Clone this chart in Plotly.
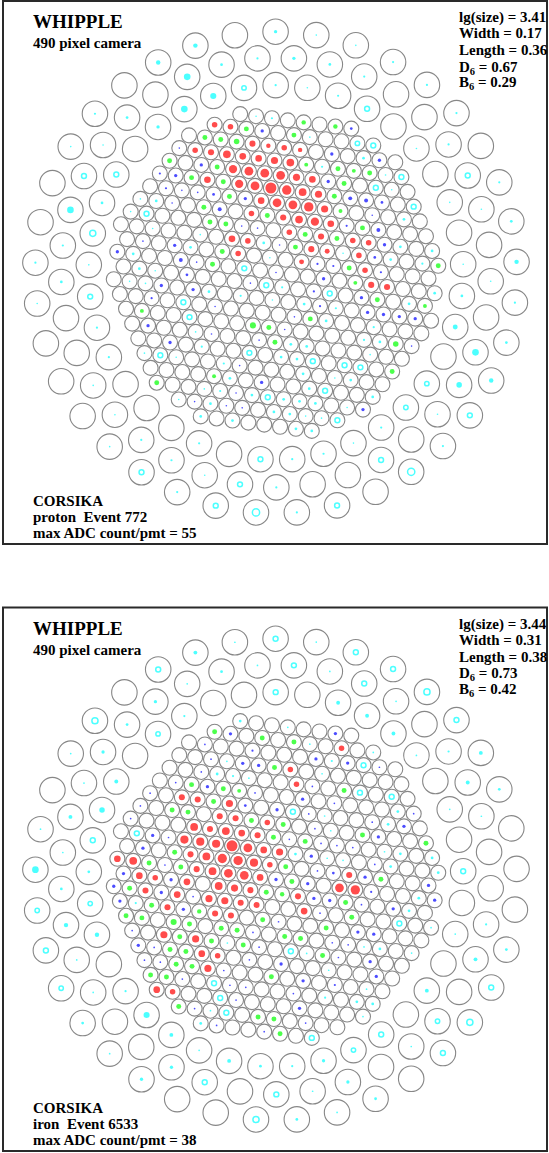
import math
import plotly.graph_objects as go

W, H = 549, 1153
PX_PER_UNIT = 16.0

# ---------------- camera geometry (Whipple 490: 379 inner + 3x37 outer) ----------------
N_INNER_RINGS = 11
INNER_ROT_DEG = 7.44
CUT_CORNERS = [(0, -11), (1, -11), (-1, -10), (11, -11), (10, -11), (11, -10),
               (11, 0), (11, -1), (10, 1), (0, 11), (-1, 11), (1, 10),
               (-11, 11), (-10, 11), (-11, 10), (-11, 0), (-11, 1), (-10, -1)]
OUTER_RADII = [11.71, 13.43, 15.05]
OUTER_START_DEG = [-90.1, -94.95, -90.1]
N_PER_OUTER_RING = 37

# ---------------- event data: (i, j, ADC) inner pixels, (ring, k, ADC) outer pixels ----------------
# negative ADC values are drawn as open rings
TOP_LABELS = ["lg(size) = 3.41", "Width = 0.17", "Length = 0.36", "D<sub>6</sub> = 0.67", "B<sub>6</sub> = 0.29"]
TOP_INFO = ["CORSIKA", "proton&nbsp; Event 772", "max ADC count/pmt = 55"]
TOP_MAX_ADC = 55

TOP_RED = [(0, -10, 14), (1, -10, 14), (2, -9, 17), (3, -9, 9), (4, -9, 14), (5, -9, 9),
           (-2, -8, 14), (-1, -8, 17), (0, -8, 27), (1, -8, 20), (2, -8, 20), (3, -8, 23), (4, -8, 27),
           (0, -7, 31), (1, -7, 35), (2, -7, 35), (3, -7, 35), (4, -7, 23), (5, -7, 20),
           (-2, -6, 20), (0, -6, 31), (1, -6, 35), (2, -6, 55), (3, -6, 40), (4, -6, 27), (5, -6, 23),
           (1, -5, 20), (2, -5, 35), (3, -5, 35), (4, -5, 40), (5, -5, 23),
           (0, -4, 14), (2, -4, 17), (3, -4, 27), (4, -4, 31), (5, -4, 20),
           (2, -3, 14), (4, -3, 17), (6, -3, 14), (7, -3, 14),
           (-2, -2, 20), (-1, -2, 14), (3, -2, 17), (4, -2, 11), (6, -2, 14),
           (-2, -1, 14), (2, -1, 11), (6, -1, 14), (6, 0, 17), (7, 0, 17)]
TOP_GREEN = [(2, -10, 11), (5, -10, 11), (6, -11, 9), (8, -11, 9), (-1, -9, 11), (0, -9, 11), (1, -9, 14),
             (5, -8, 7), (7, -8, 11), (8, -8, 7), (9, -8, 11), (-4, -7, 11), (-1, -7, 11), (7, -7, 11),
             (-3, -6, 11), (-1, -6, 11), (6, -6, 11), (-1, -5, 11), (6, -5, 7), (-3, -4, 11), (1, -4, 11),
             (7, -4, 11), (-3, -3, 11), (-2, -3, 11), (3, -3, 11), (5, -3, 11), (2, -2, 11), (11, -2, 11),
             (-3, -1, 11), (5, -1, 11), (-4, 0, 11), (5, 0, 7), (6, 1, 11), (9, 1, 7), (1, 3, 11),
             (-3, 4, 17), (-2, 4, 11), (6, 4, 14), (-2, 5, 11), (5, 6, 11), (-7, 8, 7), (-10, 4, 7), (-11, 9, 11)]
TOP_BLUE = [(3, -10, 5), (9, -11, 3.4), (-3, -8, 1.2), (-2, -7, 5), (10, -9, 5), (7, -9, 5), (6, -7, 5),
            (-5, -6, 2.2), (-4, -6, 5), (7, -6, 7), (8, -6, 7), (9, -6, 3.4), (-5, -5, 2.2), (-4, -5, 1.2),
            (-3, -5, 1.2), (-2, -5, 3.4), (0, -5, 5), (8, -5, 1.2), (-5, -4, 1.2), (-2, -4, 7), (6, -4, 2.2),
            (8, -4, 7), (-1, -3, 1.2), (0, -3, 1.2), (8, -3, 5), (1, -2, 1.2), (7, -2, 3.4), (-8, -1, 1.2),
            (-6, -1, 5), (3, -1, 2.2), (4, -1, 2.2), (7, -1, 2.2), (-10, 0, 5), (-6, 0, 7), (-5, 0, 1.2),
            (0, 0, 1.2), (3, 0, 5), (-6, 1, 3.4), (-2, 1, 1.2), (2, 1, 2.2), (5, 1, 5), (-8, 2, 5), (-6, 2, 5),
            (2, 2, 2.2), (5, 2, 5), (6, 2, 5), (7, 2, 5), (8, 2, 5), (-9, 3, 2.2), (-5, 3, 1.2), (0, 3, 1.2),
            (-1, 4, 1.2), (7, 4, 1.2), (-10, 5, 5), (-3, 5, 1.2), (-6, 5, 1.2), (-9, 6, 5), (-5, 7, 1.2),
            (-4, 8, 5), (-6, 9, 1.2), (-7, 10, 1.2), (-6, 10, 1.2), (-9, 10, 1.2), (2, 9, 5)]
TOP_CYAN = [(4, -11, 2.2), (3, -11, 0.6), (6, -10, 0.6), (9, -9, 3.4), (6, -8, 2.2), (10, -8, 1.2), (10, -7, 1.2),
            (-6, -4, 3.4), (-7, -4, 0.6), (-8, -3, 0.6), (10, -5, 3.4), (-7, -2, 1.2), (-4, -2, 0.6), (0, -2, 3.4),
            (5, -2, 1.2), (8, -2, 3.4), (10, -2, 2.2), (9, -3, 3.4), (11, -3, 3.4), (-5, -1, 3.4), (0, -1, 0.6),
            (-9, 0, 3.4), (10, 0, 3.4), (-9, 1, 3.4), (-8, 1, 1.2), (0, 1, 2.2), (8, 1, 3.4), (-10, 2, 1.2),
            (-9, 2, 1.2), (-5, 2, 3.4), (-3, 2, 2.2), (-1, 2, 1.2), (1, 2, 3.4), (3, 2, 2.2), (2, 3, 3.4),
            (5, 3, 2.2), (4, 4, 2.2), (5, 4, 3.4), (-1, 5, 3.4), (0, 5, 3.4), (-7, 5, 1.2), (4, 5, 1.2),
            (-7, 6, 2.2), (-2, 6, 3.4), (-1, 6, 3.4), (-11, 7, 1.2), (-9, 7, 1.2), (-6, 7, 2.2), (1, 7, 1.2),
            (2, 7, 3.4), (-1, 7, 3.4), (-6, 8, 3.4), (-1, 8, 3.4), (3, 8, 3.4), (-8, 9, 1.2), (-7, 9, 2.2),
            (-5, 9, 3.4), (-3, 9, 3.4), (-2, 9, 3.4), (-1, 9, 3.4), (1, 9, 1.2), (-10, 10, 1.2), (-8, 10, 3.4),
            (-4, 10, 3.4), (-3, 10, 3.4), (-2, 10, 0.6), (-1, 10, 1.2), (-9, 11, 3.4), (-7, 11, 3.4),
            (-3, 11, 3.4), (-2, 11, 3.4)]
TOP_RING = [(9, -10, -9), (10, -10, -11), (11, -8, -11), (9, -7, -11), (11, -6, -11), (-7, -3, -11), (-2, 0, -11),
            (-1, 1, -11), (3, 1, -11), (-7, 3, -11), (-7, 4, -11), (-4, 6, -11), (0, 6, -11), (2, 6, -11),
            (3, 6, -11), (-10, 7, -11), (0, 8, -11), (-4, 9, -11), (0, 10, -11)]
TOP_OUTER = [(3, 35, 9), (3, 34, 9), (3, 32, 2.2), (3, 31, 1.2), (3, 28, 2.2), (3, 27, 1.2), (3, 0, 5), (3, 1, 1.2),
             (3, 2, 1.2), (3, 3, 2.2), (3, 4, 2.2), (3, 5, 2.2), (3, 7, 2.2), (3, 8, 3.4), (3, 9, 9), (3, 10, 2.2),
             (3, 11, 3.4), (3, 12, 9), (3, 14, 2.2), (3, 18, 2.2), (3, 21, 2.2), (3, 23, 1.2),
             (2, 35, 20), (2, 36, 3.4), (2, 0, 2.2), (2, 33, 3.4), (2, 32, 1.2), (2, 30, 20), (2, 29, 2.2),
             (2, 28, 3.4), (2, 1, 5), (2, 2, 3.4), (2, 3, 2.2), (2, 6, 2.2), (2, 8, 1.2), (2, 10, 1.2), (2, 12, 20),
             (2, 13, 14), (2, 14, 1.2), (2, 19, 2.2), (2, 25, 1.2), (2, 24, 1.2), (2, 23, 2.2), (2, 22, 2.2),
             (2, 21, 1.2),
             (1, 35, 17), (1, 34, 20), (1, 33, 5), (1, 30, 3.4), (1, 28, 1.2), (1, 0, 2.2), (1, 1, 1.2), (1, 2, 2.2),
             (1, 5, 1.2), (1, 7, 1.2), (1, 9, 1.2), (1, 10, 3.4), (1, 11, 11), (1, 15, 2.2), (1, 16, 1.2),
             (1, 17, 2.2), (1, 18, 2.2), (1, 26, 2.2), (1, 25, 2.2), (1, 21, 2.2)]
TOP_OUTER_RING = [(3, 13, -11), (3, 15, -24), (3, 17, -11), (3, 19, -24), (3, 20, -11), (3, 22, -11), (2, 31, -11),
                  (2, 7, -11), (2, 16, -11), (2, 20, -11), (1, 36, -9), (1, 31, -11), (1, 29, -17), (1, 3, -11),
                  (1, 13, -9), (1, 14, -9), (1, 27, -11), (1, 19, -11)]

BOT_LABELS = ["lg(size) = 3.44", "Width = 0.31", "Length = 0.38", "D<sub>6</sub> = 0.73", "B<sub>6</sub> = 0.42"]
BOT_INFO = ["CORSIKA", "iron&nbsp; Event 6533", "max ADC count/pmt = 38"]
BOT_MAX_ADC = 38

BOT_RED = [(8, -10, 9.5), (4, -8, 9.5), (4, -7, 9.5), (-4, -5, 11.5), (-3, -5, 11.5), (-1, -5, 16), (-2, -4, 11.5),
           (-1, -4, 11.5), (1, -4, 9.5), (-4, -3, 19), (-3, -3, 11.5), (-2, -3, 19), (-1, -3, 14), (0, -3, 11.5),
           (-5, -2, 21), (-4, -2, 21), (-3, -2, 21), (-2, -2, 38), (-1, -2, 24), (0, -2, 14), (1, -2, 16),
           (-5, -1, 11.5), (-4, -1, 19), (-3, -1, 27), (-2, -1, 27), (-1, -1, 21), (0, -1, 9.5), (5, -1, 11.5),
           (-10, 0, 14), (-9, 0, 19), (-5, 0, 11.5), (-4, 0, 19), (-3, 0, 24), (-2, 0, 24), (-1, 0, 14),
           (4, 0, 24), (5, 0, 27), (-9, 1, 14), (-8, 1, 9.5), (-6, 1, 14), (-4, 1, 19), (-3, 1, 16),
           (-2, 1, 11.5), (1, 1, 11.5), (-9, 2, 11.5), (-7, 2, 14), (-5, 2, 16), (-4, 2, 16), (-3, 2, 11.5),
           (-2, 2, 11.5), (1, 2, 14), (-8, 3, 11.5), (-5, 3, 11.5), (-4, 3, 11.5), (-9, 5, 16), (-7, 5, 16),
           (-7, 6, 14), (-6, 6, 9.5), (-7, 7, 16), (-11, 9, 14), (-10, 9, 9.5)]
BOT_GREEN = [(0, -10, 7.7), (3, -10, 7.7), (5, -10, 7.7), (3, -8, 7.7), (7, -7, 7.7), (-3, -6, 7.7), (-1, -6, 7.7),
             (0, -6, 4.7), (-2, -5, 7.7), (-5, -4, 7.7), (-4, -4, 7.7), (0, -4, 7.7), (2, -4, 7.7), (7, -4, 7.7),
             (11, -4, 7.7), (1, -3, 7.7), (3, -3, 7.7), (-6, -1, 7.7), (1, -1, 7.7), (7, -1, 7.7), (-8, 0, 7.7),
             (-6, 0, 7.7), (1, 0, 7.7), (-1, 1, 7.7), (0, 1, 6.1), (4, 1, 7.7), (-10, 2, 7.7), (4, 2, 7.7),
             (-9, 3, 7.7), (-6, 3, 6.1), (-2, 3, 7.7), (2, 3, 7.7), (-11, 4, 7.7), (-10, 4, 7.7), (-8, 4, 11.5),
             (-7, 4, 7.7), (-5, 4, 7.7), (-4, 4, 7.7), (-1, 4, 7.7), (0, 4, 7.7), (-8, 5, 7.7), (-6, 5, 7.7),
             (-4, 5, 7.7), (1, 5, 7.7), (-9, 6, 7.7), (-8, 6, 7.7), (-9, 7, 7.7), (-8, 7, 7.7), (-3, 7, 7.7),
             (-11, 8, 7.7), (-10, 8, 7.7), (-10, 10, 7.7), (-5, 10, 7.7), (-4, 10, 7.7), (-4, 11, 7.7)]
BOT_BLUE = [(1, -10, 3.4), (8, -11, 3.4), (-1, -9, 0.9), (2, -9, 1.5), (6, -9, 3.4), (8, -9, 3.4), (10, -9, 0.9),
            (-1, -8, 0.9), (1, -8, 3.4), (2, -8, 3.4), (-2, -7, 0.9), (5, -7, 0.9), (-4, -6, 0.9), (-2, -6, 3.4),
            (1, -6, 0.9), (4, -6, 3.4), (6, -6, 0.9), (11, -6, 0.9), (-6, -5, 0.9), (0, -5, 2.4), (2, -5, 3.4),
            (4, -5, 0.9), (8, -5, 0.9), (10, -5, 3.4), (-7, -4, 0.9), (4, -4, 0.9), (8, -4, 3.4), (-8, -3, 0.9),
            (2, -3, 0.9), (4, -3, 0.9), (5, -3, 0.9), (6, -3, 0.9), (-7, -2, 3.4), (-6, -2, 0.9), (3, -2, 3.4),
            (7, -2, 0.9), (-8, -1, 3.4), (3, -1, 0.9), (4, -1, 2.4), (6, -1, 3.4), (10, -1, 3.4), (-7, 0, 0.9),
            (0, 0, 3.4), (2, 0, 3.4), (6, 0, 1.5), (10, 0, 3.4), (-10, 1, 3.4), (-7, 1, 3.4), (2, 1, 3.4),
            (3, 1, 3.4), (5, 1, 0.9), (7, 1, 3.4), (-11, 2, 3.4), (-8, 2, 3.4), (-6, 2, 0.9), (2, 2, 0.9),
            (-11, 3, 3.4), (-7, 3, 3.4), (-1, 3, 0.9), (4, 3, 3.4), (5, 3, 3.4), (-3, 4, 0.9), (2, 4, 0.9),
            (3, 4, 0.9), (-11, 5, 0.9), (-3, 5, 0.9), (2, 5, 0.9), (4, 5, 3.4), (-11, 6, 3.4), (-10, 6, 0.9),
            (-4, 6, 0.9), (-2, 6, 3.4), (4, 6, 3.4), (-11, 7, 0.9), (-10, 7, 0.9), (-6, 7, 0.9), (-1, 7, 3.4),
            (1, 7, 1.5), (-9, 8, 0.9), (-6, 8, 0.9), (-5, 8, 0.9), (-2, 8, 0.9), (-6, 9, 0.9), (-2, 9, 3.4),
            (-9, 10, 0.9), (-2, 10, 0.9), (-8, 11, 0.9), (-5, 11, 0.9)]
BOT_CYAN = [(2, -11, 2.4), (5, -11, 0.9), (6, -10, 0.9), (10, -10, 0.9), (7, -9, 1.5), (0, -8, 0.9), (6, -8, 0.9),
            (-1, -7, 2.4), (0, -7, 1.5), (1, -7, 0.9), (10, -6, 2.4), (5, -5, 0.9), (9, -5, 2.4), (5, -4, 0.9),
            (8, -3, 0.9), (9, -3, 2.4), (11, -3, 2.4), (2, -2, 2.4), (4, -2, 0.9), (5, -2, 0.9), (8, -2, 2.4),
            (11, -2, 2.4), (9, 0, 2.4), (8, 1, 2.4), (9, 2, 0.9), (-10, 3, 1.5), (4, 4, 0.9), (5, 4, 2.4),
            (7, 4, 0.9), (-5, 5, 0.9), (0, 5, 0.9), (1, 6, 0.9), (3, 7, 0.9), (0, 8, 1.5), (2, 8, 2.4),
            (3, 8, 2.4), (2, 9, 0.9), (-8, 10, 0.9), (-9, 11, 2.4)]
BOT_RING = [(9, -9, -7.7), (8, -7, -7.7), (10, -7, -7.7), (3, -5, -7.7), (-8, -2, -7.7), (7, 2, -7.7),
            (-1, 5, -7.7), (-7, 8, -7.7), (-7, 9, -7.7), (-7, 10, -7.7), (-2, 11, -7.7)]
BOT_OUTER = [(3, 35, 4.7), (3, 36, 0.9), (3, 31, 0.9), (3, 29, 0.9), (3, 28, 14), (3, 1, 0.9), (3, 6, 4.7),
             (3, 7, 2.4), (3, 11, 2.4), (3, 16, 2.4), (3, 17, 0.9), (3, 18, 2.4), (3, 22, 3.4), (3, 23, 0.9),
             (3, 24, 2.4),
             (2, 36, 2.4), (2, 0, 0.9), (2, 35, 0.9), (2, 34, 3.4), (2, 33, 2.4), (2, 32, 3.4), (2, 31, 0.9),
             (2, 30, 4.7), (2, 29, 0.9), (2, 28, 2.4), (2, 2, 0.9), (2, 4, 0.9), (2, 6, 1.5), (2, 7, 4.7),
             (2, 8, 0.9), (2, 11, 1.5), (2, 12, 4.7), (2, 15, 0.9), (2, 17, 3.4), (2, 18, 0.9), (2, 22, 3.4),
             (2, 25, 0.9), (2, 26, 0.9), (2, 27, 6.1),
             (1, 34, 1.5), (1, 31, 4.7), (1, 30, 9.5), (1, 28, 2.4), (1, 2, 4.7), (1, 3, 4.7), (1, 4, 4.7),
             (1, 5, 0.9), (1, 7, 0.9), (1, 11, 0.9), (1, 13, 4.7), (1, 17, 3.4), (1, 18, 1.5), (1, 19, 2.4),
             (1, 20, 4.7), (1, 21, 0.9), (1, 22, 4.7), (1, 23, 11.5), (1, 24, 1.5), (1, 26, 6.1)]
BOT_OUTER_RING = [(3, 0, -7.7), (3, 34, -7.7), (3, 32, -12), (3, 2, -7.7), (3, 3, -7.7), (3, 4, -12), (3, 5, -7.7),
                  (3, 12, -7.7), (3, 13, -12), (3, 14, -7.7), (3, 19, -12), (3, 25, -6), (3, 26, -7.7),
                  (3, 27, -6), (2, 1, -7.7), (2, 3, -7.7), (2, 14, -6), (2, 19, -7.7), (2, 21, -7.7),
                  (1, 0, -7.7), (1, 33, -6), (1, 29, -7.7), (1, 27, -6), (1, 9, -7.7), (1, 15, -7.7), (1, 16, -6)]

# ---------------- styling ----------------
OUTLINE = "#878787"
COLORS = {"red": "#ff0000", "green": "#00ff00", "blue": "#0000ff", "cyan": "#00ffff"}
INNER_DIAM_PX = 15
OUTER_DIAM_PX = 25.5
FONT = "Liberation Serif, Times New Roman, serif"
DOT_SCALE_PX = 11.0
MIN_DOT_PX = 1.6


def inner_pixels():
    cut = set(CUT_CORNERS)
    out = []
    n = N_INNER_RINGS
    for j in range(-n, n + 1):
        for i in range(-n, n + 1):
            if max(abs(i), abs(j), abs(i + j)) <= n and (i, j) not in cut:
                out.append((i, j))
    return out


def inner_xy(i, j):
    t = math.radians(INNER_ROT_DEG)
    u = i * math.cos(t) + j * math.cos(t + math.pi / 3)
    v = i * math.sin(t) + j * math.sin(t + math.pi / 3)
    return u, -v


def outer_xy(r, k):
    a = math.radians(OUTER_START_DEG[r - 1] + 360.0 / N_PER_OUTER_RING * k)
    R = OUTER_RADII[r - 1]
    return R * math.cos(a), -R * math.sin(a)


def diam(adc, amax):
    return max(MIN_DOT_PX, DOT_SCALE_PX * math.sqrt(abs(adc) / amax))


fig = go.Figure()


def add_panel(xa, ya, red, green, blue, cyan, ring, outer, outer_ring, amax):
    pts = [inner_xy(i, j) for (i, j) in inner_pixels()]
    fig.add_trace(go.Scatter(x=[p[0] for p in pts], y=[p[1] for p in pts], mode="markers",
                             marker=dict(symbol="circle-open", size=INNER_DIAM_PX, color=OUTLINE,
                                         line=dict(width=1.1)),
                             xaxis=xa, yaxis=ya, hoverinfo="skip"))
    opts = [outer_xy(r, k) for r in (1, 2, 3) for k in range(N_PER_OUTER_RING)]
    fig.add_trace(go.Scatter(x=[p[0] for p in opts], y=[p[1] for p in opts], mode="markers",
                             marker=dict(symbol="circle-open", size=OUTER_DIAM_PX, color=OUTLINE,
                                         line=dict(width=1.1)),
                             xaxis=xa, yaxis=ya, hoverinfo="skip"))

    def dots(entries, color, geom):
        xy = [geom(a, b) for (a, b, _) in entries]
        fig.add_trace(go.Scatter(x=[p[0] for p in xy], y=[p[1] for p in xy], mode="markers",
                                 marker=dict(symbol="circle", color=color,
                                             size=[diam(e[2], amax) for e in entries],
                                             line=dict(width=0)),
                                 xaxis=xa, yaxis=ya, hoverinfo="skip"))

    def rings(entries, geom):
        xy = [geom(a, b) for (a, b, _) in entries]
        fig.add_trace(go.Scatter(x=[p[0] for p in xy], y=[p[1] for p in xy], mode="markers",
                                 marker=dict(symbol="circle-open", color=COLORS["cyan"],
                                             size=[diam(e[2], amax) for e in entries],
                                             line=dict(width=1.5)),
                                 xaxis=xa, yaxis=ya, hoverinfo="skip"))

    dots(cyan, COLORS["cyan"], inner_xy)
    dots(outer, COLORS["cyan"], outer_xy)
    rings(ring, inner_xy)
    rings(outer_ring, outer_xy)
    dots(blue, COLORS["blue"], inner_xy)
    dots(green, COLORS["green"], inner_xy)
    dots(red, COLORS["red"], inner_xy)


add_panel("x", "y", TOP_RED, TOP_GREEN, TOP_BLUE, TOP_CYAN, TOP_RING, TOP_OUTER, TOP_OUTER_RING, TOP_MAX_ADC)
add_panel("x2", "y2", BOT_RED, BOT_GREEN, BOT_BLUE, BOT_CYAN, BOT_RING, BOT_OUTER, BOT_OUTER_RING, BOT_MAX_ADC)

# camera centres in page pixels
CX = 276.0
CY_TOP, CY_BOT = 272.5, 879.5
SPLIT = H / 2.0

ax = dict(visible=False, showgrid=False, zeroline=False, fixedrange=True)
fig.update_layout(
    width=W, height=H, margin=dict(l=0, r=0, t=0, b=0),
    paper_bgcolor="white", plot_bgcolor="white", showlegend=False,
    xaxis=dict(ax, domain=[0, 1], range=[(0 - CX) / PX_PER_UNIT, (W - CX) / PX_PER_UNIT]),
    yaxis=dict(ax, domain=[0.5, 1], range=[(CY_TOP - SPLIT) / PX_PER_UNIT, CY_TOP / PX_PER_UNIT]),
    xaxis2=dict(ax, domain=[0, 1], range=[(0 - CX) / PX_PER_UNIT, (W - CX) / PX_PER_UNIT]),
    yaxis2=dict(ax, domain=[0, 0.5], range=[(CY_BOT - H) / PX_PER_UNIT, (CY_BOT - SPLIT) / PX_PER_UNIT]),
)

# frames
for (x0, y0, x1, y1) in [(3, 1, 547, 544), (3, 607.5, 547, 1151)]:
    fig.add_shape(type="rect", xref="paper", yref="paper",
                  x0=x0 / W, x1=x1 / W, y0=1 - y0 / H, y1=1 - y1 / H,
                  line=dict(color="#2a2a2a", width=2), fillcolor="rgba(0,0,0,0)")


def txt(px, py, s, size):
    fig.add_annotation(x=px / W, y=1 - py / H, xref="paper", yref="paper", text=s,
                       showarrow=False, xanchor="left", yanchor="top",
                       font=dict(family=FONT, size=size, color="black", weight="bold"))


for off, labels, info in [(0, TOP_LABELS, TOP_INFO), (606.7, BOT_LABELS, BOT_INFO)]:
    txt(31, 9.1 + off, "WHIPPLE", 19)
    txt(31, 32.9 + off, "490 pixel camera", 15)
    for s, top in zip(labels, [7.3, 23.3, 39.9, 56.6, 72.3]):
        txt(456.7, top + off, s, 15)
    for s, top in zip(info, [491.3, 507.3, 522.9]):
        txt(31, top + off, s, 15)

fig.write_html("out.html", config={"displayModeBar": False},
               post_script="document.body.style.margin='0';document.body.style.overflow='hidden';")
